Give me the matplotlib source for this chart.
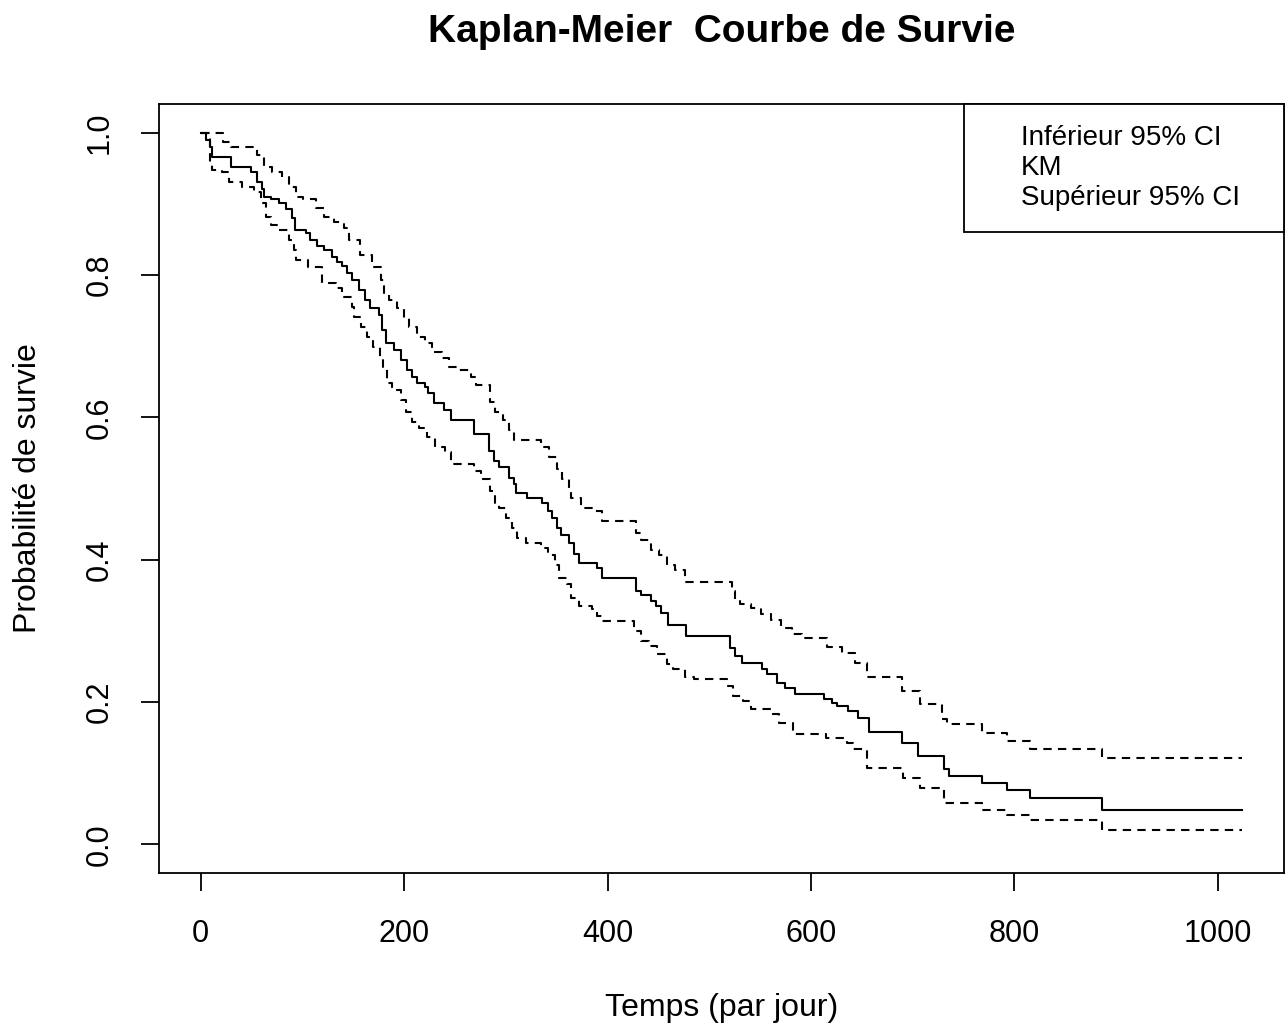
import numpy as np
import matplotlib
matplotlib.use("Agg")
from matplotlib import pyplot as plt
from matplotlib.lines import Line2D

plt.rcParams['font.family'] = ['Liberation Sans', 'DejaVu Sans']

# Kaplan-Meier estimate: event times (days) and survival just after each drop
km_t = [5, 9, 11, 30, 50, 55, 60, 62, 69, 77, 84, 90, 93, 104, 108, 114, 121, 129, 134, 139,
        144, 149, 156, 162, 167, 175, 178, 182, 190, 197, 203, 208, 213, 221, 224, 229, 239, 246,
        269, 283, 288, 293, 303, 308, 310, 321, 336, 341, 345, 350, 354, 362, 367, 372, 390, 395,
        428, 433, 443, 448, 453, 459, 477, 520, 525, 532, 552, 557, 567, 574, 584, 613, 621, 626,
        636, 646, 657, 689, 705, 731, 736, 768, 793, 815, 886]
km_s = [0.99, 0.98, 0.965, 0.951, 0.944, 0.931, 0.920, 0.910, 0.906, 0.901, 0.892, 0.880, 0.863,
        0.859, 0.849, 0.841, 0.835, 0.825, 0.818, 0.813, 0.803, 0.793, 0.779, 0.765, 0.754, 0.744,
        0.723, 0.704, 0.694, 0.680, 0.666, 0.656, 0.648, 0.642, 0.634, 0.620, 0.610, 0.596, 0.577,
        0.553, 0.539, 0.530, 0.515, 0.507, 0.493, 0.487, 0.479, 0.469, 0.459, 0.445, 0.434, 0.423,
        0.408, 0.396, 0.389, 0.375, 0.356, 0.351, 0.342, 0.335, 0.325, 0.308, 0.293, 0.276, 0.265,
        0.255, 0.246, 0.239, 0.227, 0.220, 0.211, 0.204, 0.199, 0.194, 0.187, 0.177, 0.158, 0.142,
        0.124, 0.106, 0.096, 0.086, 0.076, 0.065, 0.048]

# upper 95% confidence band
up_t = [22, 30, 55, 62, 70, 80, 87, 94, 101, 113, 121, 131, 141, 146, 157, 168, 177, 180, 185,
        193, 200, 205, 213, 221, 227, 237, 244, 254, 266, 271, 284, 289, 297, 303, 308, 335, 342,
        350, 355, 362, 364, 374, 387, 395, 428, 433, 443, 451, 458, 466, 476, 522, 525, 530, 541,
        551, 561, 571, 581, 591, 616, 630, 643, 655, 689, 707, 729, 734, 768, 793, 815, 886]
up_s = [0.987, 0.979, 0.969, 0.952, 0.944, 0.937, 0.924, 0.910, 0.906, 0.894, 0.882, 0.875, 0.866,
        0.849, 0.828, 0.811, 0.793, 0.775, 0.765, 0.754, 0.739, 0.727, 0.713, 0.704, 0.692, 0.683,
        0.670, 0.666, 0.656, 0.645, 0.621, 0.607, 0.596, 0.582, 0.568, 0.558, 0.544, 0.528, 0.514,
        0.501, 0.486, 0.473, 0.469, 0.455, 0.437, 0.427, 0.413, 0.406, 0.392, 0.385, 0.369, 0.356,
        0.345, 0.338, 0.332, 0.324, 0.315, 0.304, 0.296, 0.290, 0.277, 0.269, 0.255, 0.235, 0.215,
        0.197, 0.176, 0.169, 0.156, 0.145, 0.134, 0.121]

# lower 95% confidence band
lo_t = [9, 11, 21, 28, 41, 52, 59, 64, 69, 77, 87, 92, 94, 106, 119, 133, 139, 149, 151, 158,
        164, 169, 176, 179, 183, 188, 197, 202, 208, 215, 223, 230, 240, 246, 269, 276, 284, 289,
        293, 300, 306, 311, 320, 335, 341, 348, 352, 360, 364, 372, 385, 390, 395, 426, 433, 441,
        449, 458, 464, 476, 485, 517, 523, 533, 541, 561, 569, 582, 615, 635, 641, 655, 690, 707,
        731, 768, 793, 815, 886]
lo_s = [0.958, 0.948, 0.944, 0.931, 0.924, 0.917, 0.901, 0.882, 0.870, 0.863, 0.849, 0.835, 0.821,
        0.811, 0.789, 0.782, 0.769, 0.755, 0.741, 0.727, 0.713, 0.699, 0.685, 0.670, 0.648, 0.638,
        0.624, 0.607, 0.593, 0.585, 0.572, 0.558, 0.551, 0.535, 0.525, 0.514, 0.497, 0.479, 0.472,
        0.459, 0.445, 0.430, 0.423, 0.417, 0.407, 0.392, 0.375, 0.366, 0.346, 0.335, 0.331, 0.321,
        0.314, 0.300, 0.286, 0.279, 0.268, 0.254, 0.246, 0.235, 0.232, 0.222, 0.208, 0.201, 0.191,
        0.183, 0.170, 0.155, 0.149, 0.142, 0.134, 0.107, 0.093, 0.079, 0.058, 0.048, 0.042, 0.034,
        0.020]

t_end = 1024
labels = ["Inférieur 95% CI", "KM", "Supérieur 95% CI   "]


def steps(t, s):
    return np.r_[0, t, t_end], np.r_[1.0, s, s[-1]]


fig = plt.figure(figsize=(12.88, 10.28), dpi=100)
ax = fig.add_axes([0.1234, 0.1508, 0.8735, 0.748])

lw = 1.5
x, y = steps(lo_t, lo_s)
ax.plot(x, y, drawstyle='steps-post', color='black', lw=lw, ls=(0, (4, 3)))
x, y = steps(km_t, km_s)
ax.plot(x, y, drawstyle='steps-post', color='black', lw=lw)
x, y = steps(up_t, up_s)
ax.plot(x, y, drawstyle='steps-post', color='black', lw=lw, ls=(0, (4, 3)))

ax.set_xlim(-0.04 * t_end, 1.04 * t_end)
ax.set_ylim(-0.04, 1.04)
ax.set_xticks(np.arange(0, 1001, 200))
ax.set_yticks(np.arange(0, 1.01, 0.2))
ax.set_yticklabels([f"{v:.1f}" for v in np.arange(0, 1.01, 0.2)], rotation=90, va='center')

for sp in ax.spines.values():
    sp.set_linewidth(1.3)
ax.tick_params(axis='both', direction='out', length=13, width=1.3, labelsize=22, color='black')
ax.tick_params(axis='x', pad=20)
ax.tick_params(axis='y', pad=19)

ax.set_xlabel("Temps (par jour)", fontsize=23, labelpad=32)
ax.set_ylabel("Probabilité de survie", fontsize=23, labelpad=30)
ax.set_title("Kaplan-Meier  Courbe de Survie", fontsize=28, fontweight='bold', pad=45)

handles = [Line2D([], [], color='none') for _ in labels]
leg = ax.legend(handles, labels, loc='upper right', fontsize=20, frameon=True, fancybox=False,
                borderaxespad=0, handlelength=1.0, handletextpad=0.3, labelspacing=0.15,
                borderpad=0.75)
leg.get_frame().set_edgecolor('black')
leg.get_frame().set_linewidth(1.3)
leg.get_frame().set_alpha(1)

plt.savefig('out.png', dpi=100)
